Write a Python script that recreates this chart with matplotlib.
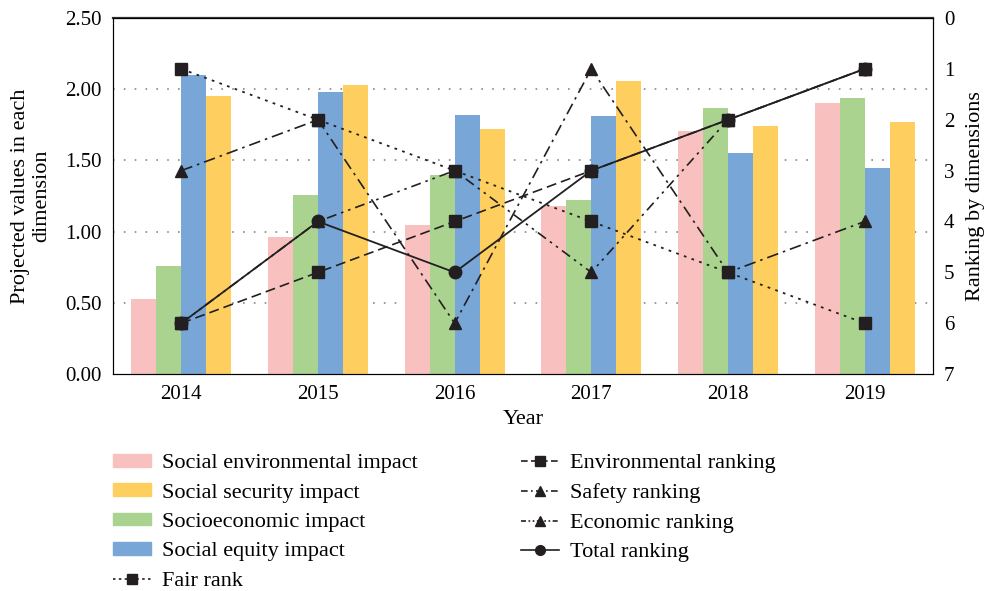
import numpy as np
import matplotlib.pyplot as plt
from matplotlib.patches import Patch
from matplotlib.lines import Line2D

plt.rcParams['font.family'] = ['Liberation Serif', 'DejaVu Serif']
plt.rcParams['font.size'] = 15

years = ['2014', '2015', '2016', '2017', '2018', '2019']

# bar values (left axis)
soc_env = [0.53, 0.96, 1.05, 1.18, 1.71, 1.90]
soc_eco = [0.76, 1.26, 1.40, 1.22, 1.87, 1.94]
soc_equ = [2.10, 1.98, 1.82, 1.81, 1.55, 1.45]
soc_sec = [1.95, 2.03, 1.72, 2.06, 1.74, 1.77]

# rankings (right axis)
fair_rank = [1, 2, 3, 4, 5, 6]
env_rank = [6, 5, 4, 3, 2, 1]
safety_rank = [3, 2, 6, 1, 5, 4]
econ_rank = [6, 4, 3, 5, 2, 1]
total_rank = [6, 4, 5, 3, 2, 1]

c_pink = '#F8C1BF'
c_yel = '#FECF5F'
c_grn = '#AAD38F'
c_blu = '#77A6D7'
c_blk = '#231F20'

fig = plt.figure(figsize=(9.85, 5.91), dpi=100)
ax = fig.add_axes([0.1147, 0.367, 0.8325, 0.6025])
x = np.arange(len(years))
w = 0.183

ax.bar(x - 1.5*w, soc_env, w, color=c_pink, zorder=2)
ax.bar(x - 0.5*w, soc_eco, w, color=c_grn, zorder=2)
ax.bar(x + 0.5*w, soc_equ, w, color=c_blu, zorder=2)
ax.bar(x + 1.5*w, soc_sec, w, color=c_yel, zorder=2)

ax.set_ylim(0, 2.5)
ax.set_xlim(-0.5, 5.5)
ax.set_yticks([0, 0.5, 1.0, 1.5, 2.0, 2.5])
ax.set_yticklabels(['%.2f' % v for v in [0, 0.5, 1.0, 1.5, 2.0, 2.5]])
ax.set_xticks(x)
ax.set_xticklabels(years)
ax.tick_params(length=0, pad=8)
for v in [0.5, 1.0, 1.5, 2.0]:
    ax.axhline(v, color='#888888', lw=1.2, ls=(0, (1, 5.5)), zorder=1)
ax.set_xlabel('Year', labelpad=4, fontsize=16)
ax.set_ylabel('Projected values in each\ndimension', labelpad=10, fontsize=16)
for s in ax.spines.values():
    s.set_color('#333333')
ax.spines['top'].set_linewidth(1.6)

ax2 = ax.twinx()
ax2.set_ylim(7, 0)
ax2.set_yticks(range(8))
ax2.tick_params(length=0, pad=8)
ax2.set_ylabel('Ranking by dimensions', labelpad=8, fontsize=16)

ms = 9
ax2.plot(x, total_rank, '-', color=c_blk, lw=1.3, marker='o', ms=ms, zorder=3)
ax2.plot(x, econ_rank, color=c_blk, lw=1.2, ls=(0, (6, 3, 1.5, 3, 1.5, 3)), marker='^', ms=ms, zorder=3)
ax2.plot(x, safety_rank, color=c_blk, lw=1.2, ls=(0, (7, 3, 1.5, 3)), marker='^', ms=ms, zorder=3)
ax2.plot(x, env_rank, color=c_blk, lw=1.2, ls=(0, (6, 3)), marker='s', ms=ms, zorder=4)
ax2.plot(x, fair_rank, color=c_blk, lw=1.3, ls=(0, (1.5, 3)), marker='s', ms=ms, zorder=4)

handles = [
    Patch(color=c_pink, label='Social environmental impact'),
    Patch(color=c_yel, label='Social security impact'),
    Patch(color=c_grn, label='Socioeconomic impact'),
    Patch(color=c_blu, label='Social equity impact'),
    Line2D([], [], color=c_blk, lw=1.2, ls=(0, (1.5, 2)), marker='s', ms=7, label='Fair rank'),
    Line2D([], [], color=c_blk, lw=1.2, ls=(0, (4, 2)), marker='s', ms=7, label='Environmental ranking'),
    Line2D([], [], color=c_blk, lw=1.2, ls=(0, (4, 2, 1, 2)), marker='^', ms=7, label='Safety ranking'),
    Line2D([], [], color=c_blk, lw=1.2, ls=(0, (3, 1.5, 1, 1.5, 1, 1.5)), marker='^', ms=7, label='Economic ranking'),
    Line2D([], [], color=c_blk, lw=1.2, ls='-', marker='o', ms=7, label='Total ranking'),
]
fig.legend(handles=handles, ncol=2, loc='upper left', bbox_to_anchor=(0.1147, 0.232),
           frameon=False, handlelength=1.7, handleheight=0.5, columnspacing=4.65,
           labelspacing=0.46, handletextpad=0.5, borderaxespad=0, borderpad=0, fontsize=16)

fig.savefig('out.png', dpi=100)
